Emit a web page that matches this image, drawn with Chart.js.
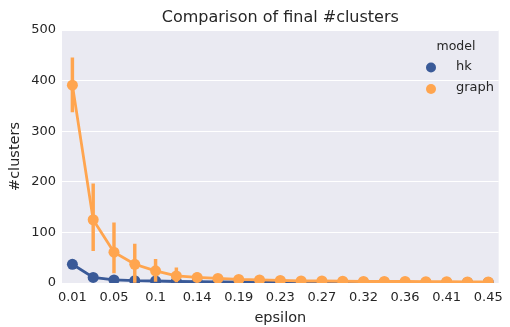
<!DOCTYPE html>
<html>
<head>
<meta charset="utf-8">
<script src="https://cdn.jsdelivr.net/npm/chart.js@4/dist/chart.umd.min.js"></script>
<style>
html,body{margin:0;padding:0;background:#fff;}
#wrap{width:510px;height:327px;}
</style>
</head>
<body>
<div id="wrap"><canvas id="c" width="510" height="327"></canvas></div>
<script>
const epsilon = ["0.01","0.03","0.05","0.08","0.1","0.12","0.14","0.16","0.19","0.21","0.23","0.25","0.27","0.3","0.32","0.34","0.36","0.38","0.41","0.43","0.45"];
const yTicks = [0,100,200,300,400,500];

const hkMean = [37, 11, 6, 4.5, 4, 3, 2.5, 2, 2, 1.5, 1.5, 1, 1, 1, 1, 1, 1, 1, 1, 1, 1];
const hkLow  = [34, 9, 4.5, 1, 1, 1, 1, 1, 1, 0.5, 0.5, 0.5, 0.5, 0.5, 0.5, 0.5, 0.5, 0.5, 0.5, 0.5, 0.5];
const hkHigh = [41, 13, 7.5, 10, 8, 5, 4, 3, 3, 2.5, 2.5, 1.5, 1.5, 1.5, 1.5, 1.5, 1.5, 1.5, 1.5, 1.5, 1.5];

const graphMean = [391, 125, 61, 37, 24, 14, 11, 9, 7, 6, 5, 4, 4, 3.5, 3, 3, 3, 2.5, 2.5, 2, 2];
const graphLow  = [338, 64, 20, 0, 3, 2, 2, 2, 2, 2, 2, 1.5, 1.5, 1, 1, 1, 1, 1, 1, 1, 1];
const graphHigh = [445, 196, 119, 77, 47, 30, 20, 15, 12, 10, 8, 7, 6, 6, 5, 5, 5, 4, 4, 4, 4];

const seriesNames = ["hk", "graph"];
const colHk = "#3A5A98";
const colGraph = "#FFA54F";
const txt = "#262626";
const FONT = "'DejaVu Sans', sans-serif";

const pairs = (lo, hi) => lo.map((v, i) => [v, hi[i]]);

const bgPlugin = {
  id: 'bg',
  beforeDraw(chart) {
    const a = chart.chartArea, ctx = chart.ctx;
    ctx.save();
    ctx.fillStyle = "#EAEAF2";
    ctx.fillRect(a.left, a.top, a.right - a.left, a.bottom - a.top);
    ctx.restore();
  }
};

const legendPlugin = {
  id: 'sbLegend',
  afterDraw(chart) {
    const ctx = chart.ctx;
    const items = chart.data.datasets.filter(d => d.type === 'line')
      .sort((a, b) => seriesNames.indexOf(a.label) - seriesNames.indexOf(b.label));
    ctx.save();
    ctx.fillStyle = txt;
    ctx.font = "12.5px " + FONT;
    ctx.textAlign = "center";
    ctx.textBaseline = "middle";
    ctx.fillText("model", 456, 46.5);
    items.forEach((d, i) => {
      const y = 67.5 + i * 21.5;
      ctx.beginPath();
      ctx.arc(431, y, 5, 0, Math.PI * 2);
      ctx.fillStyle = d.pointBackgroundColor;
      ctx.fill();
      ctx.fillStyle = txt;
      ctx.font = "13px " + FONT;
      ctx.textAlign = "left";
      ctx.fillText(d.label, 456, y - 1);
    });
    ctx.restore();
  }
};

new Chart(document.getElementById('c'), {
  data: {
    labels: epsilon,
    datasets: [
      { type: 'line', label: 'graph', data: graphMean, borderColor: colGraph, backgroundColor: colGraph,
        pointBackgroundColor: colGraph, pointBorderWidth: 0, pointRadius: 5.5, borderWidth: 2.8, order: 0, tension: 0 },
      { type: 'bar', label: 'graph-ci', data: pairs(graphLow, graphHigh), backgroundColor: colGraph,
        barThickness: 2.8, grouped: false, borderWidth: 0, borderSkipped: false, order: 1 },
      { type: 'line', label: 'hk', data: hkMean, borderColor: colHk, backgroundColor: colHk,
        pointBackgroundColor: colHk, pointBorderWidth: 0, pointRadius: 5.5, borderWidth: 2.8, order: 2, tension: 0 },
      { type: 'bar', label: 'hk-ci', data: pairs(hkLow, hkHigh), backgroundColor: colHk,
        barThickness: 2.8, grouped: false, borderWidth: 0, borderSkipped: false, order: 3 }
    ]
  },
  options: {
    responsive: false,
    animation: false,
    layout: { padding: { left: 0, right: 2, top: 0, bottom: 0 } },
    plugins: {
      legend: { display: false },
      tooltip: { enabled: false },
      title: {
        display: true, text: 'Comparison of final #clusters', fullSize: false,
        color: txt, font: { family: FONT, size: 16, weight: 'normal' },
        padding: { top: 8.4, bottom: 2.4 }
      }
    },
    scales: {
      x: {
        type: 'category', offset: true,
        grid: { display: false, drawTicks: false },
        border: { display: false },
        ticks: {
          autoSkip: false, maxRotation: 0, padding: 7, color: txt,
          font: { family: FONT, size: 13 },
          callback: function(v, i) { return i % 2 === 0 ? epsilon[i] : ''; }
        },
        title: { display: true, text: 'epsilon', color: txt, font: { family: FONT, size: 14.5 }, padding: { top: 5, bottom: 0 } },
        afterFit(s) { s.height = 44; }
      },
      y: {
        min: 0, max: 500,
        afterBuildTicks(s) { s.ticks = yTicks.map(v => ({ value: v })); },
        grid: { color: '#ffffff', lineWidth: 1, drawTicks: false },
        border: { display: false },
        ticks: { padding: 6, color: txt, font: { family: FONT, size: 13 } },
        title: { display: true, text: '#clusters', color: txt, font: { family: FONT, size: 14.5 }, padding: { top: 7, bottom: 0 } },
        afterFit(s) { s.width = 62; }
      }
    }
  },
  plugins: [bgPlugin, legendPlugin]
});
</script>
</body>
</html>
